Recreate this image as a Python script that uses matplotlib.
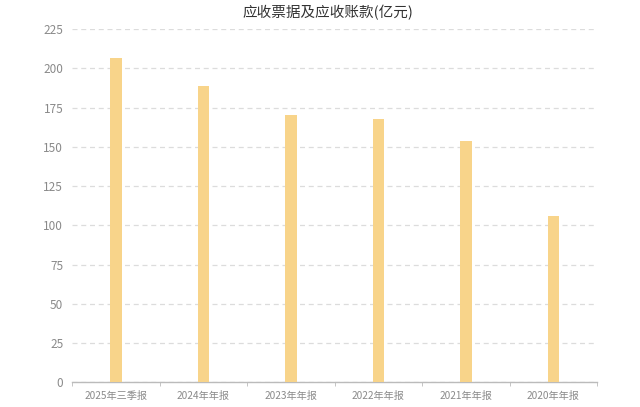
import matplotlib
matplotlib.use("Agg")
import matplotlib.pyplot as plt
import numpy as np

plt.rcParams["font.family"] = ["Noto Sans CJK SC", "DejaVu Sans"]

TITLE = "应收票据及应收账款(亿元)"
periods = ["2025年三季报", "2024年年报", "2023年年报", "2022年年报", "2021年年报", "2020年年报"]
values = [206.8, 188.4, 170.2, 167.7, 153.5, 105.8]
y_ticks = [0, 25, 50, 75, 100, 125, 150, 175, 200, 225]

BAR_COLOR = "#F8D48A"
GRID_COLOR = "#DCDCDC"
TEXT_COLOR = "#8A8A8A"

fig = plt.figure(figsize=(6.4, 4.07), dpi=100)
ax = fig.add_axes([0.113, 0.0607, 0.820, 0.868])

x = np.arange(len(periods))
ax.bar(x, values, width=0.13, color=BAR_COLOR, zorder=3)

ax.set_xlim(-0.5, len(periods) - 0.5)
ax.set_ylim(0, 225)
ax.set_yticks(y_ticks)
ax.set_xticks(x)
ax.set_xticklabels(periods)
ax.set_xticks(np.arange(len(periods) + 1) - 0.5, minor=True)

ax.grid(axis="y", color=GRID_COLOR, linestyle=(0, (4, 3)), linewidth=0.9, zorder=0)
for side in ["top", "right", "left"]:
    ax.spines[side].set_visible(False)
ax.spines["bottom"].set_color("#BBBBBB")
ax.spines["bottom"].set_linewidth(1.0)

ax.tick_params(axis="y", length=0, pad=6.5, labelsize=8.5, labelcolor=TEXT_COLOR)
ax.tick_params(axis="x", which="major", length=0, pad=6, labelsize=7.3, labelcolor=TEXT_COLOR)
ax.tick_params(axis="x", which="minor", length=3, color="#BBBBBB")

fig.text(0.513, 0.97, TITLE, ha="center", va="center", fontsize=10.5, color="#333333")

fig.savefig("out.png", dpi=100)
